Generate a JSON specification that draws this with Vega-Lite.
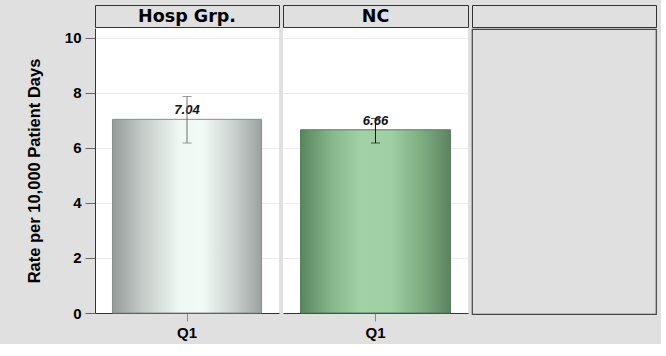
{
  "$schema": "https://vega.github.io/schema/vega-lite/v6.json",
  "background": "#e0e0e0",
  "padding": {"left": 26, "top": 4, "right": 4, "bottom": 4},
  "config": {
    "font": "Liberation Sans",
    "view": {"stroke": null},
    "axis": {"labelFont": "Liberation Sans", "titleFont": "Liberation Sans"}
  },
  "datasets": {
    "rates": [
      {"group": "Hosp Grp.", "quarter": "Q1", "rate": 7.04, "lo": 6.18, "hi": 7.87},
      {"group": "NC", "quarter": "Q1", "rate": 6.66, "lo": 6.18, "hi": 7.07}
    ],
    "headers": [
      {"panel": 1, "label": "Hosp Grp."},
      {"panel": 2, "label": "NC"},
      {"panel": 3, "label": " "}
    ]
  },
  "spacing": 2,
  "hconcat": [
    {
      "spacing": 0,
      "vconcat": [
        {
          "width": 184, "height": 22,
          "data": {"name": "headers"},
          "transform": [{"filter": "datum.panel == 1"}],
          "view": {"fill": "#e0e0e0", "stroke": "#333333", "strokeWidth": 1},
          "mark": {"type": "text", "font": "DejaVu Sans", "fontWeight": "bold", "fontSize": 17.5, "color": "#000000", "baseline": "middle", "dy": 1},
          "encoding": {
            "x": {"field": "label", "type": "nominal", "axis": null},
            "y": {"field": "label", "type": "nominal", "axis": null},
            "text": {"field": "label"}
          }
        },
        {
          "width": 184, "height": 285,
          "data": {"name": "rates"},
          "transform": [{"filter": "datum.group == 'Hosp Grp.'"}],
          "view": {"fill": "#ffffff", "stroke": null},
          "encoding": {
            "x": {"field": "quarter", "type": "nominal", "title": null,
              "scale": {"paddingInner": 0.19, "paddingOuter": 0.095},
              "axis": {"labelAngle": 0, "labelFontWeight": "bold", "labelFontSize": 15, "labelColor": "#000000", "tickColor": "#888888", "tickSize": 8, "domainColor": "#333333", "labelPadding": 4}}
          },
          "layer": [
            {
              "mark": {"type": "bar", "stroke": "#8a8f8d", "strokeWidth": 1,
                "fill": {"gradient": "linear", "x1": 0, "y1": 0, "x2": 1, "y2": 0,
                  "stops": [
                    {"offset": 0, "color": "#939b98"},
                    {"offset": 0.2, "color": "#c4cbc8"},
                    {"offset": 0.45, "color": "#f0f8f3"},
                    {"offset": 0.6, "color": "#f3fbf6"},
                    {"offset": 0.8, "color": "#cdd4d1"},
                    {"offset": 1, "color": "#9ba2a0"}
                  ]}},
              "encoding": {
                "y": {"field": "rate", "type": "quantitative",
                  "scale": {"domain": [0, 10.36], "nice": false},
                  "axis": {"values": [0, 2, 4, 6, 8, 10], "title": "Rate per 10,000 Patient Days", "titleFontWeight": "bold", "titleFontSize": 16.5, "titleColor": "#000000", "titlePadding": 22, "labelFontWeight": "bold", "labelFontSize": 15, "labelColor": "#000000", "labelPadding": 4, "tickSize": 10, "tickColor": "#666666", "domainColor": "#333333", "grid": true, "gridColor": "#ececec"}}
              }
            },
            {
              "mark": {"type": "text", "fontWeight": "bold", "fontStyle": "italic", "fontSize": 13, "baseline": "alphabetic", "dy": -5, "color": "#111111"},
              "encoding": {
                "y": {"field": "rate", "type": "quantitative"},
                "text": {"field": "rate", "type": "quantitative", "format": ".2f"}
              }
            },
            {
              "mark": {"type": "rule", "color": "#707070", "strokeWidth": 1},
              "encoding": {"y": {"field": "lo", "type": "quantitative"}, "y2": {"field": "hi"}}
            },
            {
              "mark": {"type": "tick", "color": "#707070", "size": 9, "thickness": 1},
              "encoding": {"y": {"field": "lo", "type": "quantitative"}}
            },
            {
              "mark": {"type": "tick", "color": "#707070", "size": 9, "thickness": 1},
              "encoding": {"y": {"field": "hi", "type": "quantitative"}}
            }
          ]
        }
      ]
    },
    {
      "spacing": 0,
      "vconcat": [
        {
          "width": 185, "height": 22,
          "data": {"name": "headers"},
          "transform": [{"filter": "datum.panel == 2"}],
          "view": {"fill": "#e0e0e0", "stroke": "#333333", "strokeWidth": 1},
          "mark": {"type": "text", "font": "DejaVu Sans", "fontWeight": "bold", "fontSize": 17.5, "color": "#000000", "baseline": "middle", "dy": 1},
          "encoding": {
            "x": {"field": "label", "type": "nominal", "axis": null},
            "y": {"field": "label", "type": "nominal", "axis": null},
            "text": {"field": "label"}
          }
        },
        {
          "width": 185, "height": 285,
          "data": {"name": "rates"},
          "transform": [{"filter": "datum.group == 'NC'"}],
          "view": {"fill": "#ffffff", "stroke": null},
          "encoding": {
            "x": {"field": "quarter", "type": "nominal", "title": null,
              "scale": {"paddingInner": 0.19, "paddingOuter": 0.095},
              "axis": {"labelAngle": 0, "labelFontWeight": "bold", "labelFontSize": 15, "labelColor": "#000000", "tickColor": "#888888", "tickSize": 8, "domainColor": "#333333", "labelPadding": 4}}
          },
          "layer": [
            {
              "mark": {"type": "bar", "stroke": "#557a59", "strokeWidth": 1,
                "fill": {"gradient": "linear", "x1": 0, "y1": 0, "x2": 1, "y2": 0,
                  "stops": [
                    {"offset": 0, "color": "#5a855f"},
                    {"offset": 0.2, "color": "#85b588"},
                    {"offset": 0.4, "color": "#a2d1a5"},
                    {"offset": 0.6, "color": "#a0cfa3"},
                    {"offset": 0.8, "color": "#80ae83"},
                    {"offset": 1, "color": "#5b8460"}
                  ]}},
              "encoding": {
                "y": {"field": "rate", "type": "quantitative",
                  "scale": {"domain": [0, 10.36], "nice": false},
                  "axis": {"values": [0, 2, 4, 6, 8, 10], "title": null, "labels": false, "ticks": false, "domain": false, "grid": true, "gridColor": "#ececec"}}
              }
            },
            {
              "mark": {"type": "text", "fontWeight": "bold", "fontStyle": "italic", "fontSize": 13, "baseline": "alphabetic", "dy": -5, "color": "#111111"},
              "encoding": {
                "y": {"field": "rate", "type": "quantitative"},
                "text": {"field": "rate", "type": "quantitative", "format": ".2f"}
              }
            },
            {
              "mark": {"type": "rule", "color": "#111111", "strokeWidth": 1},
              "encoding": {"y": {"field": "lo", "type": "quantitative"}, "y2": {"field": "hi"}}
            },
            {
              "mark": {"type": "tick", "color": "#111111", "size": 9, "thickness": 1},
              "encoding": {"y": {"field": "lo", "type": "quantitative"}}
            },
            {
              "mark": {"type": "tick", "color": "#111111", "size": 9, "thickness": 1},
              "encoding": {"y": {"field": "hi", "type": "quantitative"}}
            }
          ]
        }
      ]
    },
    {
      "spacing": 0,
      "vconcat": [
        {
          "width": 184, "height": 22,
          "data": {"name": "headers"},
          "transform": [{"filter": "datum.panel == 3"}],
          "view": {"fill": "#e0e0e0", "stroke": "#333333", "strokeWidth": 1},
          "mark": {"type": "text", "fontWeight": "bold", "fontSize": 17, "color": "#000000", "baseline": "middle"},
          "encoding": {
            "x": {"field": "label", "type": "nominal", "axis": null},
            "y": {"field": "label", "type": "nominal", "axis": null},
            "text": {"field": "label"}
          }
        },
        {
          "width": 184, "height": 285,
          "data": {"name": "headers"},
          "transform": [{"filter": "datum.panel == 3"}],
          "view": {"fill": "#e0e0e0", "stroke": "#444444", "strokeWidth": 1.2},
          "mark": {"type": "text", "fontSize": 12},
          "encoding": {
            "x": {"field": "label", "type": "nominal", "axis": null},
            "y": {"field": "label", "type": "nominal", "axis": null},
            "text": {"field": "label"}
          }
        }
      ]
    }
  ]
}
